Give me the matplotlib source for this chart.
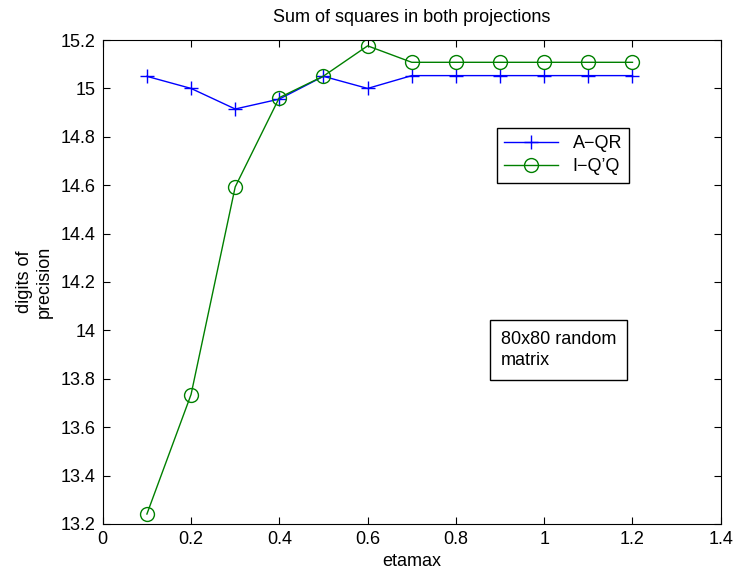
import matplotlib
matplotlib.use("Agg")
import matplotlib.pyplot as plt

etamax = [0.1, 0.2, 0.3, 0.4, 0.5, 0.6, 0.7, 0.8, 0.9, 1.0, 1.1, 1.2]
a_qr = [15.05, 15.0, 14.915, 14.956, 15.05, 15.0, 15.053, 15.053, 15.053, 15.053, 15.053, 15.053]
i_qq = [13.241, 13.735, 14.593, 14.962, 15.051, 15.176, 15.108, 15.108, 15.108, 15.108, 15.108, 15.108]

plt.rcParams["font.family"] = ["Liberation Sans", "DejaVu Sans"]
plt.rcParams["font.size"] = 13

fig = plt.figure(figsize=(7.34, 5.72), dpi=100)
ax = fig.add_axes([0.140, 0.084, 0.842, 0.846])

ax.plot(etamax, a_qr, color="#0000ff", marker="+", markersize=10, lw=1, label="A\u2212QR")
ax.plot(etamax, i_qq, color="#008000", marker="o", markersize=10, markerfacecolor="none",
        lw=1, label="I\u2212Q\u2019Q")

ax.set_xlim(0, 1.4)
ax.set_ylim(13.2, 15.2)
ax.set_xticks([0, 0.2, 0.4, 0.6, 0.8, 1, 1.2, 1.4])
ax.set_xticklabels(["0", "0.2", "0.4", "0.6", "0.8", "1", "1.2", "1.4"])
yt = [13.2, 13.4, 13.6, 13.8, 14, 14.2, 14.4, 14.6, 14.8, 15, 15.2]
ax.set_yticks(yt)
ax.set_yticklabels([f"{v:g}" for v in yt])
ax.tick_params(direction="in", top=True, right=True, length=5, pad=5)

ax.set_xlabel("etamax", labelpad=4)
ax.set_ylabel("digits of\nprecision", labelpad=6)
ax.set_title("Sum of squares in both projections", fontsize=13, pad=13)

leg = ax.legend(loc="upper left", bbox_to_anchor=(0.623, 0.837), fancybox=False,
                edgecolor="black", framealpha=1, handlelength=3, borderpad=0.4,
                labelspacing=0.35)
leg.get_frame().set_linewidth(1)

ax.text(0.644, 0.36, "80x80 random\nmatrix", transform=ax.transAxes,
        va="center", ha="left", linespacing=1.3,
        bbox=dict(boxstyle="square,pad=0.6", fc="white", ec="black", lw=1))

fig.savefig("out.png", dpi=100)
